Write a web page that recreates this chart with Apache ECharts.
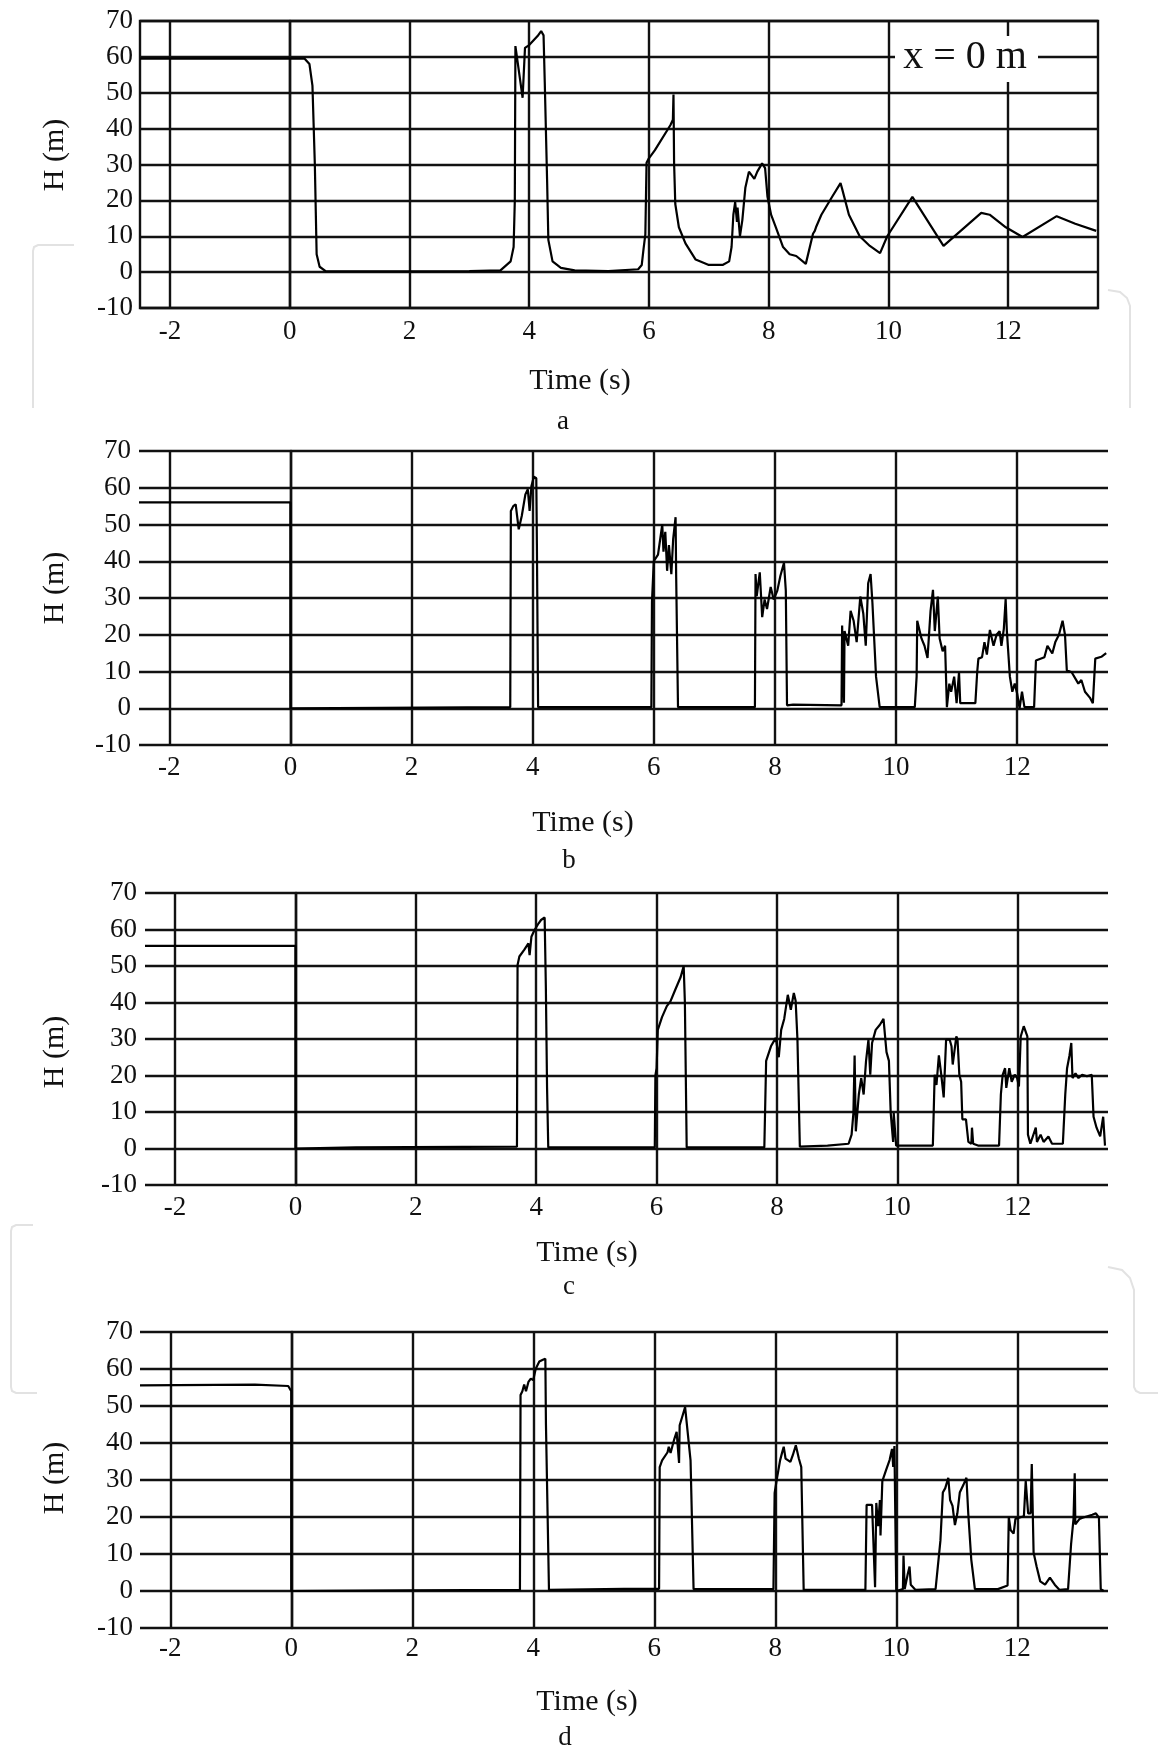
<!DOCTYPE html>
<html>
<head>
<meta charset="utf-8">
<script src="https://cdn.jsdelivr.net/npm/echarts@6/dist/echarts.min.js"></script>
<style>
html,body{margin:0;padding:0;background:#fff;}
#chart{width:1158px;height:1753px;}
</style>
</head>
<body>
<div id="chart"></div>
<script>
// ---------- data ----------
var xTickValues = [-2, 0, 2, 4, 6, 8, 10, 12];
var xMin = -2.5, xMax = 13.5;
var yMin = -10, yMax = 70, yStep = 10;
var panelLetters = ['a', 'b', 'c', 'd'];
var xName = 'Time (s)';
var yName = 'H (m)';
var stationLabel = 'x = 0 m';

// panel a
var tA = [-2.5,-1.0,0.25,0.33,0.38,0.42,0.45,0.5,0.6,2.0,3.0,3.52,3.69,3.74,3.76,3.77,3.89,3.93,4.0,4.14,4.2,4.24,4.26,4.3,4.32,4.39,4.53,4.76,5.32,5.82,5.88,5.91,5.94,5.96,5.99,6.1,6.36,6.4,6.41,6.42,6.44,6.5,6.61,6.78,7.0,7.23,7.34,7.38,7.41,7.44,7.47,7.48,7.52,7.56,7.61,7.67,7.76,7.81,7.89,7.94,7.98,8.04,8.12,8.24,8.35,8.46,8.62,8.74,8.77,8.79,8.88,9.06,9.2,9.23,9.34,9.52,9.69,9.86,9.98,10.4,10.92,11.55,11.69,11.96,12.24,12.81,13.12,13.47];
var hA = [59.5,59.6,59.5,58,52,30,5,1.5,0.3,0.2,0.3,0.5,3,7,20,63,48.6,62.5,63.3,65.8,67.2,66,53,25,9,3,1.2,0.5,0.3,0.8,2,6.5,10.5,30.5,31.5,34,41,42.5,49.5,30.5,19,12.5,8,3.5,2,2,3,7,16,19.5,14,18,10,14.5,23.5,28,26,28,30.3,29,21,16,12.5,7,5,4.5,2.3,10.7,11.5,12.5,16,21,24.8,23,16,10,7.3,5.3,10,21,7.3,16.5,16,12.5,9.8,15.6,13.5,11.5];

// panel b
var tB = [-2.5,0,0,1.5,3.63,3.64,3.68,3.72,3.77,3.82,3.88,3.92,3.95,3.98,4.02,4.06,4.07,4.09,5.96,5.97,6.0,6.07,6.14,6.16,6.19,6.22,6.25,6.29,6.32,6.36,6.37,6.4,7.67,7.68,7.7,7.75,7.79,7.83,7.87,7.93,7.98,8.04,8.09,8.15,8.18,8.2,8.3,9.1,9.11,9.14,9.15,9.21,9.25,9.3,9.35,9.41,9.46,9.5,9.54,9.58,9.61,9.67,9.73,10.31,10.34,10.35,10.42,10.47,10.52,10.57,10.61,10.64,10.69,10.72,10.77,10.81,10.84,10.88,10.91,10.96,11.0,11.04,11.06,11.31,11.34,11.36,11.42,11.46,11.5,11.55,11.61,11.66,11.71,11.74,11.78,11.81,11.83,11.88,11.92,11.96,12.0,12.04,12.08,12.12,12.28,12.31,12.45,12.5,12.58,12.63,12.69,12.75,12.79,12.82,12.9,13.01,13.06,13.12,13.2,13.25,13.29,13.39,13.47];
var hB = [56,56,0,0.1,0.3,53.7,55,55.5,48.7,52.3,58.2,59.6,53.7,60.5,63,62.6,44.6,0.3,0.3,28.8,40,41.8,50,42.6,48,37.4,44.4,36.5,46,52,35.6,0.3,0.3,36.5,30.5,37,24.8,29.6,27,33,29.6,32,36,39.6,32,0.8,1,0.8,22.5,1.5,21,17,26.5,23.8,18,30.4,25.7,17,34,36.5,28.7,8.6,0.3,0.3,8.6,23.8,19,17,13.7,26.5,32.2,21,30.4,19,15.5,17,0.3,6.7,4.5,8.6,1.4,9.8,1.4,1.4,9.8,13.5,13.9,18,14.6,21.3,17,20,21,17,21.6,29.7,21,8.6,4.5,6.7,4,0,4.5,0.3,0.3,13,13.9,17,14.9,18,20,23.8,20,10.3,9.8,6.7,7.7,4.5,2.9,1.4,13.5,14,15];

// panel c
var tC = [-2.5,0,0,1.0,3.68,3.69,3.72,3.8,3.87,3.89,3.92,3.97,4.04,4.08,4.14,4.16,4.18,4.2,5.97,5.98,6.0,6.02,6.09,6.17,6.23,6.31,6.4,6.45,6.47,6.5,7.79,7.82,7.9,7.98,8.03,8.07,8.12,8.18,8.23,8.28,8.31,8.34,8.38,8.84,9.19,9.24,9.27,9.29,9.31,9.36,9.4,9.44,9.48,9.52,9.55,9.58,9.64,9.71,9.77,9.82,9.86,9.89,9.93,9.94,9.98,10.59,10.62,10.65,10.69,10.73,10.77,10.81,10.87,10.9,10.92,10.98,11.0,11.03,11.06,11.08,11.14,11.18,11.23,11.24,11.26,11.34,11.69,11.72,11.75,11.79,11.81,11.86,11.9,11.95,11.99,12.02,12.05,12.1,12.16,12.17,12.21,12.3,12.32,12.38,12.43,12.51,12.57,12.75,12.79,12.82,12.86,12.89,12.91,12.96,13.01,13.07,13.15,13.23,13.26,13.31,13.37,13.42,13.45];
var hC = [55.5,55.5,0,0.3,0.5,50.3,52.6,54.4,56.2,53,58,59.8,61.7,62.6,63.3,44.4,16.8,0.3,0.3,20,22,32.5,36,39,40.3,43.5,47,50,40,0.3,0.3,24,28,30.3,25,32.5,35.5,42.1,38,42.6,40.5,30,0.5,0.8,1.3,3.8,9.7,25.5,4.7,14.8,19.3,14.8,24,29.8,20.2,28.9,32.5,33.9,35.5,26.4,24,9.7,1.8,9.7,0.8,0.8,20.2,17.4,25.5,20.2,14,29.8,29.8,28,23,30.7,29.8,20.2,18.3,8,8,1.8,1.3,5.7,1.3,0.8,0.8,14.8,20.2,22,16.6,22,18.3,20.2,19.3,17,30.7,33.5,30.7,3.8,1.3,5.7,1.8,3.8,1.8,3.3,1.3,1.3,14.8,22,25.5,28.9,19.3,20.6,19.3,20.2,19.8,20.2,8.7,5.7,3.3,8.7,0.8];

// panel d
var tD = [-2.5,-0.6,-0.05,0,0,2.0,3.78,3.79,3.82,3.85,3.88,3.92,3.96,4.0,4.04,4.1,4.16,4.2,4.21,4.26,5.5,6.08,6.09,6.13,6.22,6.24,6.27,6.33,6.37,6.41,6.42,6.47,6.51,6.54,6.6,6.65,7.97,7.99,8.03,8.08,8.11,8.14,8.17,8.25,8.29,8.34,8.39,8.43,8.47,9.49,9.51,9.6,9.65,9.67,9.7,9.73,9.74,9.77,9.83,9.89,9.93,9.95,9.97,10.0,10.11,10.12,10.14,10.19,10.22,10.24,10.32,10.65,10.73,10.77,10.81,10.86,10.89,10.93,10.97,11.01,11.05,11.11,11.16,11.19,11.24,11.3,11.68,11.84,11.86,11.89,11.94,11.97,12.03,12.11,12.14,12.18,12.22,12.24,12.27,12.32,12.38,12.46,12.54,12.62,12.7,12.84,12.89,12.93,12.95,12.96,13.03,13.08,13.16,13.24,13.3,13.35,13.38,13.43];
var hD = [55.6,55.8,55.4,54,0,0.2,0.3,53,54,55.8,54,56.5,57.4,57,60,62,62.5,62.8,45,0.3,0.6,0.6,33.5,35.3,37.5,39,37.3,41,43,34.6,44.8,47.5,49.7,50,35.3,0.5,0.5,26.5,30.6,35.3,37.2,39,35.8,34.9,36.7,39.4,35.8,33.5,0.3,0.3,23.3,23.3,1,23.8,17.5,24.6,15,29.7,32.6,35.4,38.4,33.5,39.2,0,0.5,9.6,0.5,4.6,6.6,1.7,0.3,0.5,13.6,26.6,27.8,30.6,24.6,23,17.8,21,26.6,28.7,30.6,21,8.5,0.5,0.5,1.5,20,16.5,15.5,19.5,19.8,20.2,29.7,21,21,34.3,10.4,6.6,2.6,1.7,3.6,1.7,0.3,0.5,12.7,19.5,31.8,18,19.5,19.8,20.2,20.6,21,19.8,0.5,0];

// ---------- layout ----------
var grids = [
  {left: 140, top: 21,   width: 958, height: 287},
  {left: 139, top: 451,  width: 969, height: 294},
  {left: 145, top: 893,  width: 963, height: 292},
  {left: 140, top: 1332, width: 968, height: 296}
];
var xNamePos = [[580, 381], [583, 823], [587, 1253], [587, 1702]];
var letterPos = [[563, 422], [569, 861], [569, 1287], [565, 1738]];
var yNamePos = [[55, 155], [55, 588], [55, 1052], [55, 1478]];
var xLabelMargin = [10, 9, 9, 7];
var yLabelMargin = [7, 8, 8, 7];

var INK = '#111';
var FONT = '"Liberation Serif", "Times New Roman", serif';
var GRID_W = 2.4;

function pairs(t, h) { return t.map(function (v, i) { return [v, h[i]]; }); }
var seriesData = [pairs(tA, hA), pairs(tB, hB), pairs(tC, hC), pairs(tD, hD)];

var option = {
  backgroundColor: '#fff',
  animation: false,
  grid: grids.map(function (g, i) {
    return Object.assign({
      show: i === 0,
      borderColor: INK,
      borderWidth: GRID_W,
      backgroundColor: 'transparent',
      containLabel: false
    }, g);
  }),
  xAxis: grids.map(function (g, i) {
    return {
      type: 'value', gridIndex: i, min: xMin, max: xMax,
      axisLine: {show: false},
      axisTick: {show: false, customValues: xTickValues},
      axisLabel: {customValues: xTickValues, fontSize: 27, fontFamily: FONT, color: INK, margin: xLabelMargin[i]},
      splitLine: {show: true, lineStyle: {color: INK, width: GRID_W}}
    };
  }),
  yAxis: grids.map(function (g, i) {
    return {
      type: 'value', gridIndex: i, min: yMin, max: yMax, interval: yStep,
      axisLine: {show: true, lineStyle: {color: INK, width: GRID_W}},
      axisTick: {show: false},
      axisLabel: {fontSize: 27, fontFamily: FONT, color: INK, margin: yLabelMargin[i]},
      splitLine: {show: true, lineStyle: {color: INK, width: GRID_W}}
    };
  }),
  series: seriesData.map(function (d, i) {
    return {
      type: 'line', xAxisIndex: i, yAxisIndex: i, data: d,
      showSymbol: false, symbol: 'none', silent: true,
      lineStyle: {color: '#000', width: 2.2},
      z: 3
    };
  }),
  graphic: []
};

grids.forEach(function (g, i) {
  option.graphic.push({
    type: 'text', x: xNamePos[i][0], y: xNamePos[i][1], z: 20,
    style: {text: xName, font: '30px ' + FONT, fill: INK, align: 'center', verticalAlign: 'middle'}
  });
  option.graphic.push({
    type: 'text', x: letterPos[i][0], y: letterPos[i][1], z: 20,
    style: {text: panelLetters[i], font: '27px ' + FONT, fill: INK, align: 'center', verticalAlign: 'middle'}
  });
  option.graphic.push({
    type: 'text', x: yNamePos[i][0], y: yNamePos[i][1], rotation: Math.PI / 2, z: 20,
    style: {text: yName, font: '30px ' + FONT, fill: INK, align: 'center', verticalAlign: 'middle'}
  });
});

// station annotation in panel a
option.graphic.push({
  type: 'rect', z: 15, shape: {x: 895, y: 36, width: 143, height: 46},
  style: {fill: '#fff'}
});
option.graphic.push({
  type: 'text', x: 965, y: 57, z: 20,
  style: {text: stationLabel, font: '40px ' + FONT, fill: INK, align: 'center', verticalAlign: 'middle'}
});

// faint page watermark brackets
[
  [[74,245],[38,245],[34,247],[33,251],[33,408]],
  [[1108,290],[1120,292],[1127,298],[1130,306],[1130,408]],
  [[33,1225],[16,1225],[12,1227],[11,1231],[11,1387],[12,1391],[16,1393],[37,1393]],
  [[1108,1267],[1122,1270],[1130,1278],[1134,1290],[1134,1387],[1136,1391],[1140,1393],[1158,1393]]
].forEach(function (pts) {
  option.graphic.push({
    type: 'polyline', z: 1, silent: true,
    shape: {points: pts},
    style: {stroke: '#e2e2e2', lineWidth: 2, fill: null}
  });
});

var chart = echarts.init(document.getElementById('chart'), null, {renderer: 'canvas'});
chart.setOption(option);
</script>
</body>
</html>
